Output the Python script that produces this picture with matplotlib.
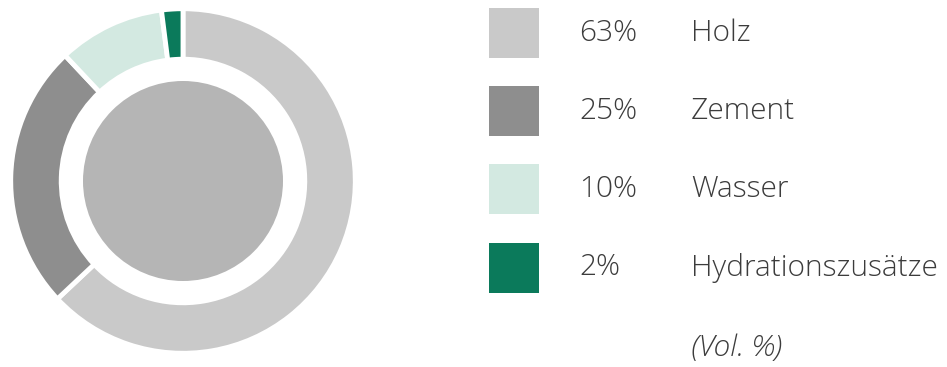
import matplotlib
matplotlib.use("Agg")
import matplotlib.pyplot as plt
from matplotlib.patches import Rectangle, Circle

# Data
categories = ["Holz", "Zement", "Wasser", "Hydrationszusätze"]
values = [63, 25, 10, 2]
pct_labels = ["63%", "25%", "10%", "2%"]
colors = ["#c9c9c9", "#8e8e8e", "#d3e9e1", "#0b7a5b"]
unit_note = "(Vol. %)"

W, H = 947, 367
fig = plt.figure(figsize=(W / 100, H / 100), dpi=100)
fig.patch.set_facecolor("white")

# Donut
cx, cy, R = 183, 181, 174
ax = fig.add_axes([(cx - R) / W, (H - cy - R) / H, 2 * R / W, 2 * R / H])
ax.pie(values, colors=colors, startangle=90, counterclock=False, radius=1.0,
       wedgeprops=dict(width=51 / R, edgecolor="white", linewidth=3.5))
ax.add_patch(Circle((0, 0), 101 / R, facecolor="#b5b5b5", edgecolor="none"))
ax.set_xlim(-1.01, 1.01)
ax.set_ylim(-1.01, 1.01)
ax.set_aspect("equal")
ax.axis("off")

# Legend (pixel coordinates, y downward)
lax = fig.add_axes([0, 0, 1, 1])
lax.set_xlim(0, W)
lax.set_ylim(H, 0)
lax.axis("off")

font = ["Open Sans", "DejaVu Sans"]
txt_color = "#3c3c3c"
fs = 21.5
y0, step, size = 8, 78.2, 50
for i, (cat, pct, col) in enumerate(zip(categories, pct_labels, colors)):
    top = y0 + i * step
    lax.add_patch(Rectangle((489, top), size, size, facecolor=col, edgecolor="none"))
    yc = top + size / 2
    lax.text(579, yc, pct, fontsize=fs, family=font, fontweight="light",
             color=txt_color, va="center", ha="left")
    lax.text(691, yc, cat, fontsize=fs, family=font, fontweight="light",
             color=txt_color, va="center", ha="left")

lax.text(691, 348, unit_note, fontsize=fs, family=font, fontweight="light",
         style="italic", color=txt_color, va="center", ha="left")

fig.savefig("out.png", dpi=100, facecolor="white")
